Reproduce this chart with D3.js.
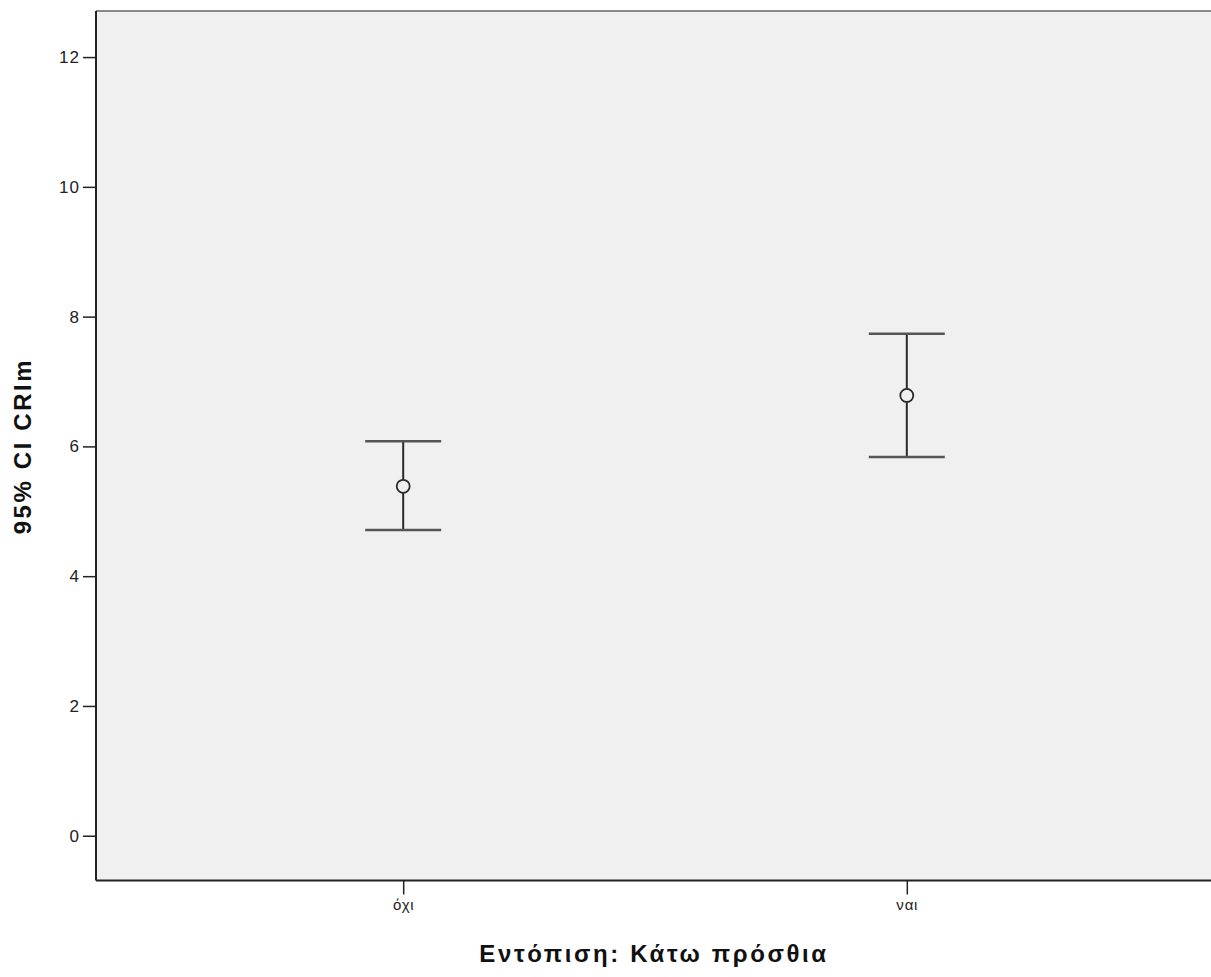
<!DOCTYPE html>
<html>
<head>
<meta charset="utf-8">
<style>
  body { margin: 0; background: #fff; }
  text { font-family: "Liberation Sans", Arial, sans-serif; }
</style>
</head>
<body>
<svg id="container" width="1211" height="977"></svg>

<script src="https://d3js.org/d3.v7.min.js"></script>
<script>
  // Groups on the x axis and the 95% CI values
  const categories = ['όχι', 'ναι']
  const means = [5.385, 6.785]
  const lower = [4.71, 5.835]
  const upper = [6.08, 7.735]
  const yTicks = [0, 2, 4, 6, 8, 10, 12]

  const data = categories.map((c, i) => ({ cat: c, mean: means[i], lo: lower[i], hi: upper[i] }))

  const svg = d3.select('#container')
  const plotLeft = 96, plotRight = 1214, plotTop = 11, plotBottom = 880.5

  const xScale = d3.scalePoint()
    .domain(categories)
    .range([plotLeft, plotRight])
    .padding(0.61)

  const yScale = d3.scaleLinear()
    .domain([-0.69, 12.71])
    .range([plotBottom, plotTop])

  // plot background
  svg.append('rect')
    .attr('x', plotLeft).attr('y', plotTop)
    .attr('width', plotRight - plotLeft).attr('height', plotBottom - plotTop)
    .style('fill', '#f0f0f0')

  // top border is lighter than the axes
  svg.append('line')
    .attr('x1', plotLeft).attr('x2', plotRight)
    .attr('y1', plotTop).attr('y2', plotTop)
    .style('stroke', '#8a8a8a').style('stroke-width', 2)

  // y axis
  const yAxis = svg.append('g')
    .attr('transform', `translate(${plotLeft},0)`)
    .call(d3.axisLeft(yScale).tickValues(yTicks).tickSize(13).tickPadding(3))
  yAxis.select('.domain').remove()
  yAxis.selectAll('.tick line').style('stroke', '#222').style('stroke-width', 1.5)
  yAxis.selectAll('text').style('font-size', '17px').style('letter-spacing', '1px').style('fill', '#222')
  svg.append('line')
    .attr('x1', plotLeft).attr('x2', plotLeft)
    .attr('y1', plotTop).attr('y2', plotBottom)
    .style('stroke', '#222').style('stroke-width', 2)

  // x axis
  const xAxis = svg.append('g')
    .attr('transform', `translate(0,${plotBottom})`)
    .call(d3.axisBottom(xScale).tickSize(14).tickPadding(5))
  xAxis.select('.domain').remove()
  xAxis.selectAll('.tick line').style('stroke', '#222').style('stroke-width', 1.5)
  xAxis.selectAll('text').style('font-size', '15px').style('letter-spacing', '0.8px').style('fill', '#222')
  svg.append('line')
    .attr('x1', plotLeft).attr('x2', plotRight)
    .attr('y1', plotBottom).attr('y2', plotBottom)
    .style('stroke', '#222').style('stroke-width', 2)

  // error bars
  const bars = svg.append('g').selectAll('g')
    .data(data)
    .enter()
    .append('g')
    .style('stroke', '#2a2a2a')

  bars.append('line')
    .attr('x1', d => xScale(d.cat)).attr('x2', d => xScale(d.cat))
    .attr('y1', d => yScale(d.hi)).attr('y2', d => yScale(d.lo))
    .style('stroke-width', 2)

  bars.append('line')
    .attr('x1', d => xScale(d.cat) - 38).attr('x2', d => xScale(d.cat) + 38)
    .attr('y1', d => yScale(d.hi)).attr('y2', d => yScale(d.hi))
    .style('stroke-width', 2.5).style('stroke', '#555')

  bars.append('line')
    .attr('x1', d => xScale(d.cat) - 38).attr('x2', d => xScale(d.cat) + 38)
    .attr('y1', d => yScale(d.lo)).attr('y2', d => yScale(d.lo))
    .style('stroke-width', 2.5).style('stroke', '#555')

  bars.append('circle')
    .attr('cx', d => xScale(d.cat))
    .attr('cy', d => yScale(d.mean))
    .attr('r', 6.5)
    .style('fill', '#f0f0f0')
    .style('stroke-width', 1.8)

  // axis titles
  svg.append('text')
    .attr('x', 654)
    .attr('y', 962)
    .attr('text-anchor', 'middle')
    .style('font-size', '24px').style('font-weight', 'bold').style('letter-spacing', '2.6px')
    .style('fill', '#111')
    .text('Εντόπιση: Κάτω πρόσθια')

  svg.append('text')
    .attr('transform', `translate(31,446) rotate(-90)`)
    .attr('text-anchor', 'middle')
    .style('font-size', '24px').style('font-weight', 'bold').style('letter-spacing', '2.6px')
    .style('fill', '#111')
    .text('95% CI CRIm')
</script>
</body>
</html>
